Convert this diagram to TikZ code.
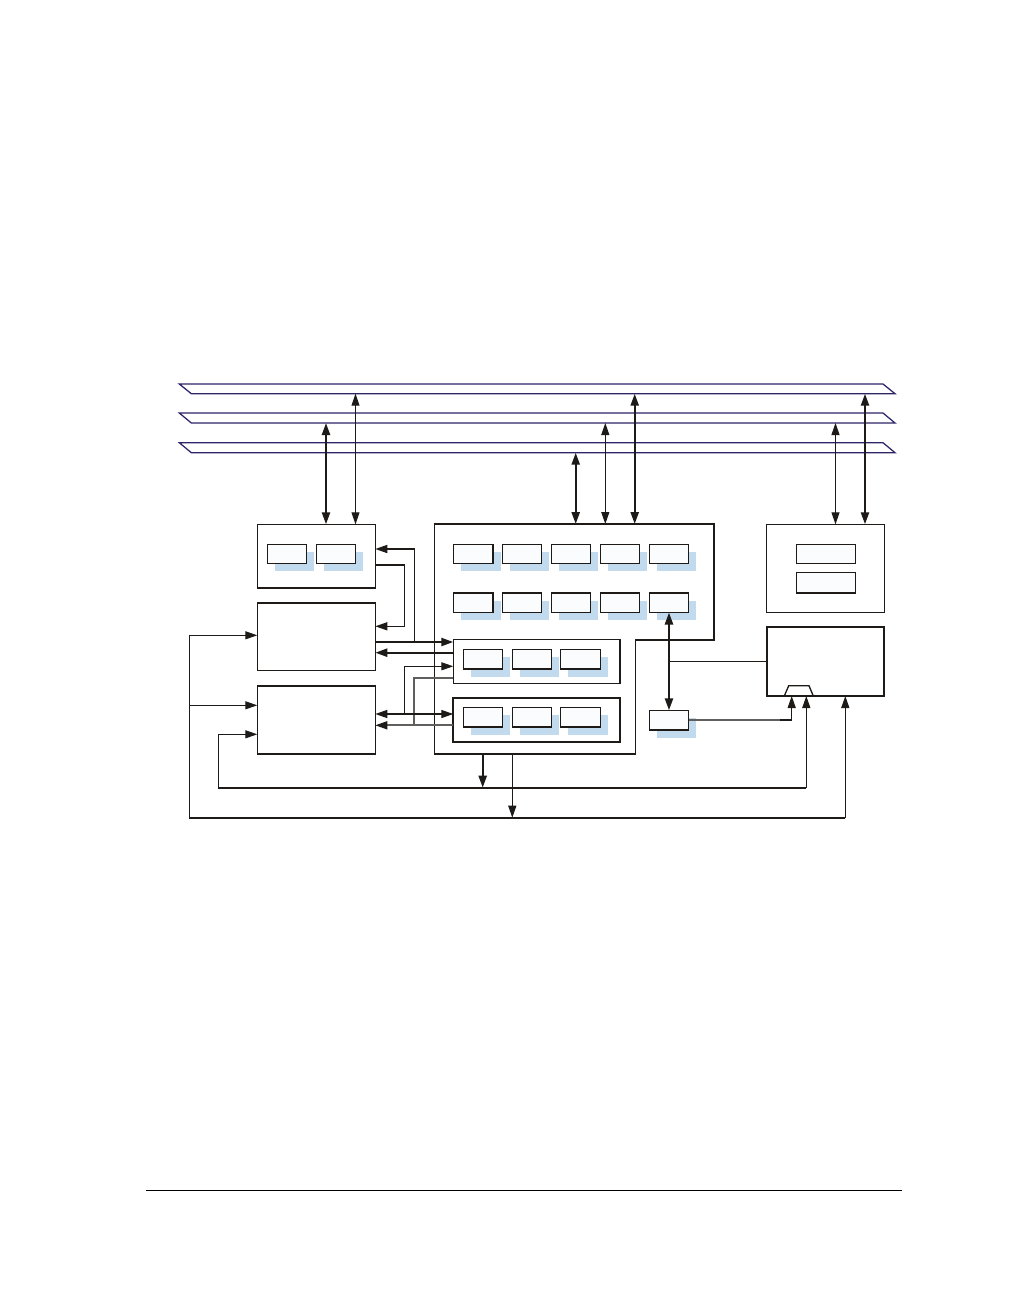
\documentclass[tikz,border=0pt]{standalone}
\usetikzlibrary{arrows.meta,fit,calc}
\definecolor{inkc}{HTML}{1D1A18}
\definecolor{busc}{HTML}{2E2468}
\definecolor{shadowc}{HTML}{C2DAEE}
\definecolor{boxfill}{HTML}{FBFCFE}
\tikzset{
  framebase/.style={draw=inkc,line width=1pt,inner sep=0pt,outer sep=0pt,fit={#1}},
  outerbox/.style={framebase={#1},line width=1.05pt},
  heavybox/.style={framebase={#1},line width=1.7pt},
  innerbox/.style={framebase={#1},fill=boxfill,line width=1pt},
  shadowbox/.style={inner sep=0pt,outer sep=0pt,fill=shadowc,draw=none,fit={#1}},
  ghostbox/.style={inner sep=0pt,outer sep=0pt,draw=none,fit={#1}},
  busline/.style={draw=busc,line width=.95pt,line join=miter},
  thinw/.style={draw=inkc,line width=.8pt},
  thickw/.style={draw=inkc,line width=1.7pt},
  midw/.style={draw=inkc,line width=1.2pt},
  graywire/.style={draw=inkc!70,line width=1.3pt},
  onehead/.style={-{Triangle[length=9pt,width=6pt,color=inkc]}},
  twoheads/.style={{Triangle[length=9pt,width=6pt,color=inkc]}-{Triangle[length=9pt,width=6pt,color=inkc]}},
  rulew/.style={draw=black,line width=1.1pt},
}
\newcommand{\shbox}[5]{%
  \node[shadowbox={(#2+7.7,#3+7.5)(#4+7.7,#5+7.5)}] (#1s) {};
  \node[innerbox={(#2,#3)(#4,#5)}] (#1) {};}
\newcommand{\busbar}[3]{%
  \node[ghostbox={(179.3,#2)(895,#3)}] (#1) {};
  \draw[busline] (#1.north west) -- ($(#1.north east)+(-12,0)$) -- (#1.south east)
     -- ($(#1.south west)+(12,0)$) -- cycle;}
\begin{document}
\begin{tikzpicture}[x=0.75pt,y=-0.75pt]
\useasboundingbox (0,0) rectangle (1009,1297);
\fill[white] (0,0) rectangle (1009,1297);

% buses
\busbar{busA}{384}{393.7}
\busbar{busB}{413}{423}
\busbar{busC}{442.7}{452.7}

% outer blocks
\node[ghostbox={(434.7,524)(714,754)}] (core) {};
\draw[draw=inkc,line width=1.15pt,line join=miter]
  (core.north west) -- (core.north east) -- (core.east |- 0,640) -- (635.7,640)
  -- (635.7,754) -- (core.south west) -- cycle;

\node[outerbox={(257.3,524.3)(375.3,588)}] (blkA) {};
\node[outerbox={(257.3,603)(375.3,670.7)}] (blkB) {};
\node[outerbox={(257.3,686)(375.3,754)}] (blkC) {};
\node[outerbox={(766.7,524.3)(884.3,612.3)}] (blkD) {};
\node[outerbox={(766.7,627)(884.3,696)},line width=1.3pt] (blkE) {};
\node[outerbox={(453.3,639.3)(620,683.3)}] (subA) {};
\node[heavybox={(453.3,698)(620,742)}] (subB) {};

% inner boxes
\shbox{a1}{267.3}{544.3}{306.7}{563.3}
\shbox{a2}{316.3}{544.3}{355.7}{563.3}

\shbox{r1}{453.3}{544.3}{493}{563.3}
\shbox{r2}{502.3}{544.3}{541.7}{563.3}
\shbox{r3}{551.3}{544.3}{590.7}{563.3}
\shbox{r4}{600.3}{544.3}{639.7}{563.3}
\shbox{r5}{649.3}{544.3}{688.7}{563.3}

\shbox{q1}{453.3}{593}{493}{612.5}
\shbox{q2}{502.3}{593}{541.7}{612.5}
\shbox{q3}{551.3}{593}{590.7}{612.5}
\shbox{q4}{600.3}{593}{639.7}{612.5}
\shbox{q5}{649.3}{593}{688.7}{612.5}

\shbox{s1}{463.3}{649.3}{502.7}{669}
\shbox{s2}{512.3}{649.3}{551.7}{669}
\shbox{s3}{560.7}{649.3}{600.7}{669}

\shbox{t1}{463.3}{707.3}{502.7}{727}
\shbox{t2}{512.3}{707.3}{551.7}{727}
\shbox{t3}{560.7}{707.3}{600.7}{727}

\shbox{u1}{649.3}{710.3}{688.7}{730}

\node[innerbox={(796.3,544.3)(855.7,563.3)}] (d1) {};
\node[innerbox={(796.3,572.7)(855.7,593)}] (d2) {};

% mux on block E
\draw[draw=inkc,line width=1pt,line join=miter] (784.3,696) -- (788.7,685.7) -- (809,685.7) -- (813.3,696);

% bus connectors
\draw[thickw,twoheads] (busB.south -| 326,0) -- (blkA.north -| 326,0);
\draw[thinw,twoheads] (busA.south -| 355.5,0) -- (blkA.north -| 355.5,0);
\draw[thickw,twoheads] (busC.south -| 575.7,0) -- (core.north -| 575.7,0);
\draw[thinw,twoheads] (busB.south -| 605.3,0) -- (core.north -| 605.3,0);
\draw[thickw,twoheads] (busA.south -| 634.7,0) -- (core.north -| 634.7,0);
\draw[thinw,twoheads] (busB.south -| 835.5,0) -- (blkD.north -| 835.5,0);
\draw[thickw,twoheads] (busA.south -| 865,0) -- (blkD.north -| 865,0);

% A, B, C and the sub-blocks
\coordinate (j414) at (414.3,642);
\coordinate (j404) at (404.3,714);
\draw[thickw,onehead] (blkB.east |- 0,642) -- (subA.west |- 0,642);
\draw[midw,onehead] (j414) -- (414.3,549) -- (blkA.east |- 0,549);
\draw[thinw,line width=1pt,onehead] (blkA.east |- 0,565) -- (404.3,565) -- (404.3,626.3) -- (blkB.east |- 0,626.3);
\draw[thickw,onehead] (subA.west |- 0,652.7) -- (blkB.east |- 0,652.7);
\draw[thinw,onehead] (j404) -- (404.3,666.3) -- (subA.west |- 0,666.3);
\draw[graywire] (subA.west |- 0,677.7) -- (414.3,677.7) -- (414.3,725.3);
\draw[thinw,line width=1pt,twoheads] (blkC.east |- 0,714) -- (subB.west |- 0,714);
\draw[graywire,onehead] (subB.west |- 0,725.3) -- (blkC.east |- 0,725.3);

% core double arrow and links to E
\coordinate (j669) at (669,661.3);
\draw[thickw,twoheads] (q5.south) -- (u1.north);
\draw[thinw,line width=1pt] (j669) -- (blkE.west |- j669);
\draw[graywire] (u1.east |- 0,720) -- (780,720);
\draw[thinw,line width=1pt,onehead] (780,720) -- (791.7,720) -- (791.7,696);

% lower feedback lines
\coordinate (j483) at (482.7,787.7);
\coordinate (j512) at (512.3,817.7);
\draw[thickw,onehead] (core.south -| 482.7,0) -- (j483);
\draw[thinw,line width=1pt,onehead] (core.south -| 512.3,0) -- (j512);
\draw[midw,line join=miter] (806.3,787.7) -- (218.3,787.7) -- (218.3,734.3);
\draw[thinw,onehead] (218.3,734.3) -- (blkC.west |- 0,734.3);
\draw[thinw,line width=1pt,onehead] (806.3,787.7) -- (806.3,696);
\draw[midw,line join=miter] (845.3,817.7) -- (189.3,817.7) -- (189.3,635.3);
\draw[thinw,onehead] (189.3,635.3) -- (blkB.west |- 0,635.3);
\draw[thinw,onehead] (189.3,705.3) -- (blkC.west |- 0,705.3);
\draw[thinw,line width=1pt,onehead] (845.3,817.7) -- (845.3,696);

% page rule
\coordinate (ruleL) at (146,1190.5);
\coordinate (ruleR) at (901.5,1190.5);
\draw[rulew] (ruleL) -- (ruleR);
\end{tikzpicture}
\end{document}
